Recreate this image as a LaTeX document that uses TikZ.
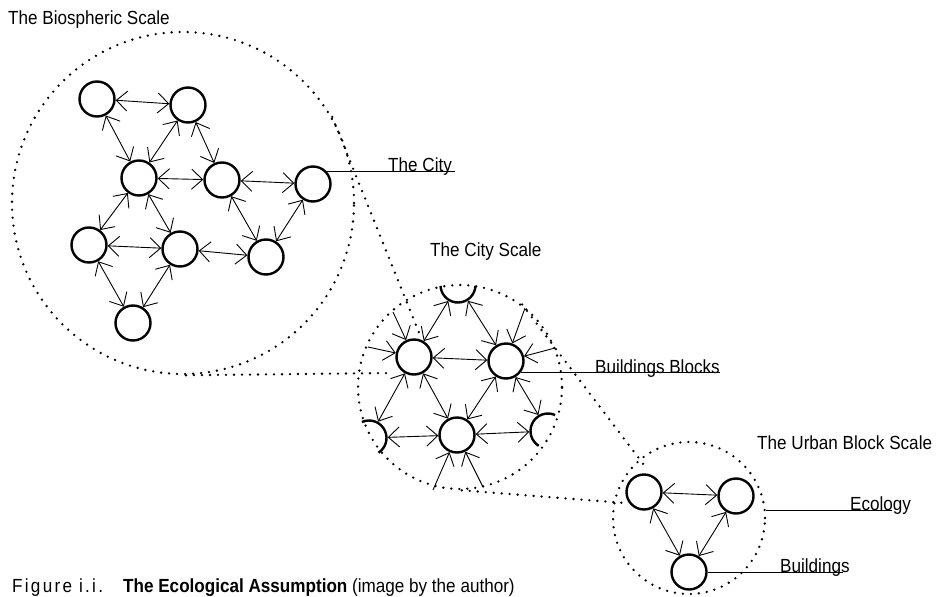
\documentclass[tikz,border=0pt]{standalone}
\usepackage{fontspec}
\setmainfont{Liberation Sans}[FakeStretch=0.9]
\usetikzlibrary{arrows.meta}

\begin{document}
\begin{tikzpicture}[x=1pt,y=-1pt,
  hub/.style={circle, draw, fill=white, line width=2.4pt, minimum size=35pt, inner sep=0pt},
  ghost/.style={circle, minimum size=35pt, inner sep=0pt, outer sep=1.2pt},
  rim/.style={line width=2.4pt},
  barb/.tip={Straight Barb[length=11pt,width=20pt]},
  link/.style={line width=0.9pt, barb-barb},
  feed/.style={line width=0.9pt, -barb},
  scalering/.style={circle, draw, line width=2.6pt, line cap=round,
                    dash pattern=on 0pt off 8pt, inner sep=0pt},
  zoomline/.style={line width=2.6pt, line cap=round, dash pattern=on 0pt off 8pt},
  leader/.style={line width=0.8pt},
  lbl/.style={font=\fontsize{19}{22}\selectfont, inner sep=0pt, anchor=base west},
]
\useasboundingbox (0,0) rectangle (937,597);

% ---- the three scales -------------------------------------------------
\node[scalering, minimum size=342pt] (bio)   at (183,203) {};
\node[scalering, minimum size=204pt] (city)  at (460,387) {};
\node[scalering, minimum size=152pt] (block) at (689,518) {};

% zoom lines between the scales
\coordinate (z1) at (420,335);
\coordinate (z2) at (393,373);
\coordinate (z3) at (644,465);
\coordinate (z4) at (625,503);
\draw[zoomline] (bio.30) -- (z1);
\draw[zoomline] (bio.-89) -- (z2);
\draw[zoomline] (city.53) -- (z3);
\draw[zoomline] (city.-89) -- (z4);

% ---- biospheric network -----------------------------------------------
\node[hub] (A) at (97,99)  {};
\node[hub] (B) at (188,105) {};
\node[hub] (C) at (139,178) {};
\node[hub] (D) at (222,180) {};
\node[hub] (E) at (313,184) {};
\node[hub] (F) at (89,245)  {};
\node[hub] (G) at (180,249) {};
\node[hub] (H) at (266,257) {};
\node[hub] (I) at (133,323) {};

\foreach \p/\q in {A/B, A/C, B/C, B/D, C/D, D/E, D/H, E/H, C/F, C/G, F/G, G/H, F/I, G/I}
  \draw[link] (\p) -- (\q);

% ---- city network -----------------------------------------------------
\node[hub] (C1) at (414,357) {};
\node[hub] (C2) at (506,361) {};
\node[hub] (C3) at (457,435) {};
\node[ghost] (ct) at (458,285) {};
\node[ghost] (cl) at (369,438) {};
\node[ghost] (cr) at (548,431) {};
\draw[rim] ([shift={(183:17.5pt)}]ct.center) arc[start angle=183, end angle=357, radius=17.5pt];
\draw[rim] ([shift={(114:17.5pt)}]cl.center) arc[start angle=114, end angle=-57, radius=17.5pt];
\draw[rim] ([shift={(66:17.5pt)}]cr.center) arc[start angle=66, end angle=238, radius=17.5pt];

\foreach \p/\q in {C1/C2, C1/C3, C2/C3, C1/ct, C2/ct, C1/cl, C3/cl, C3/cr, C2/cr}
  \draw[link] (\p) -- (\q);

% links arriving from beyond the city edge
\coordinate (s1) at (393,312);
\coordinate (s2) at (368,347);
\coordinate (s3) at (525,308);
\coordinate (s4) at (555,348);
\coordinate (s5) at (433,490);
\coordinate (s6) at (483,487);
\draw[feed] (s1) -- (C1);
\draw[feed] (s2) -- (C1);
\draw[feed] (s3) -- (C2);
\draw[feed] (s4) -- (C2);
\draw[feed] (s5) -- (C3);
\draw[feed] (s6) -- (C3);

% ---- urban block network ----------------------------------------------
\node[hub] (U1) at (644,492) {};
\node[hub] (U2) at (736,496) {};
\node[hub] (U3) at (689,572) {};
\foreach \p/\q in {U1/U2, U1/U3, U2/U3}
  \draw[link] (\p) -- (\q);

% ---- labels and leaders -----------------------------------------------
\node[lbl] (tbio)   at (8,24)    {The Biospheric Scale};
\node[lbl] (tcs)    at (430,256) {The City Scale};
\node[lbl] (tubs)   at (757,449) {The Urban Block Scale};
\node[lbl] (tcity)  at (388,171) {The City};
\node[lbl] (tbb)    at (595,373) {Buildings Blocks};
\node[lbl] (teco)   at (850,510) {Ecology};
\node[lbl] (tbld)   at (780,572) {Buildings};

\coordinate (lcity) at (455,171);
\coordinate (lbb)   at (720,373);
\coordinate (leco)  at (892,510);
\coordinate (lbld)  at (843,572);
\draw[leader] (E.41) -- (E.41 -| lcity);
\draw[leader] (C2.-39) -- (C2.-39 -| lbb);
\draw[leader] (block.6) -- (block.6 -| leco);
\draw[leader] (U3.east) -- (U3.east -| lbld);

% ---- caption ----------------------------------------------------------
\node[lbl] (fig) at (12,592) {\addfontfeature{LetterSpace=12}Figure i.i.};
\node[lbl] (cap) at (123,592) {\bfseries The Ecological Assumption\mdseries{} (image by the author)};
\end{tikzpicture}
\end{document}
